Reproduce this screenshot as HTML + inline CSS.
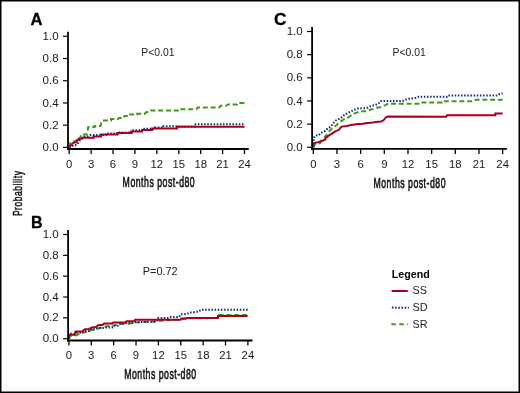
<!DOCTYPE html><html><head><meta charset="utf-8"><style>html,body{margin:0;padding:0;background:#fff}svg{display:block;will-change:transform}text{font-family:"Liberation Sans",sans-serif}</style></head><body>
<svg width="520" height="393" viewBox="0 0 520 393">
<rect x="0" y="0" width="520" height="393" fill="#fff"/>
<path d="M69.2,147 L70,143.5 L71.5,141.3 L76,141.3 L77,138 L80.7,138 L80.7,134.6 L86.5,134.6 L87.4,131.9 L87.8,129.7 L88.2,127 L94.5,127 L94.5,125.9 L100.5,125.9 L101.2,123 L102.5,120.5 L111,120.5 L111,119 L118,119 L119,118 L124,118 L124.5,115.9 L130,115.9 L130,114.4 L137,114.4 L137,113.7 L145,113.7 L146,112.3 L149,112 L150.5,110.4 L180,110.4 L180,109.2 L196.5,109.2 L197.5,107.5 L219.5,107.5 L220.5,105.8 L226,105.8 L228,104.5 L237,104.5 L237.5,103 L244.6,103" fill="none" stroke="#43981c" stroke-width="2" stroke-dasharray="5 2.8"/>
<path d="M69.2,147.4 L71,146.5 L73.4,145.4 L74.6,145.4 L76.5,144.7 L77.8,144.1 L78.5,142.2 L79.7,140.6 L82.3,138.7 L84.2,136.8 L87.4,136.5 L89.6,135.2 L90,135 L105.8,135 L105.8,133.5 L118,133.5 L118,132.5 L131,132.5 L131,130.3 L142,130.3 L142,128.8 L155,128.8 L155,127.5 L163.5,127.5 L163.5,126.2 L177,126.2 L177,126.6 L194.6,126.6 L194.6,124.2 L244.6,124.2" fill="none" stroke="#0c2c7c" stroke-width="2" stroke-dasharray="1.5 1.65"/>
<path d="M69.2,147.4 L71,145.2 L73.4,142.6 L76.5,142.3 L77.2,140.5 L78.3,139.2 L81.6,138.7 L82.3,137.7 L93.6,137.7 L93.6,136.6 L101,136.6 L101.2,134.6 L117.3,134.6 L117.3,132.9 L131.7,132.9 L131.7,131.4 L142,131.4 L142,129.9 L152.2,129.9 L152.2,128.6 L177.2,128.6 L177.2,126.7 L244.6,126.7" fill="none" stroke="#a6001e" stroke-width="2"/>
<line x1="68.0" y1="31.8" x2="68.0" y2="150.0" stroke="#000" stroke-width="1.8"/>
<line x1="67.1" y1="149.0" x2="248.7" y2="149.0" stroke="#000" stroke-width="1.8"/>
<line x1="63.0" y1="147.40" x2="68.0" y2="147.40" stroke="#000" stroke-width="1.2"/>
<text x="58.6" y="151.00" font-size="11.5" text-anchor="end" fill="#1a1a1a">0.0</text>
<line x1="63.0" y1="125.18" x2="68.0" y2="125.18" stroke="#000" stroke-width="1.2"/>
<text x="58.6" y="128.78" font-size="11.5" text-anchor="end" fill="#1a1a1a">0.2</text>
<line x1="63.0" y1="102.96" x2="68.0" y2="102.96" stroke="#000" stroke-width="1.2"/>
<text x="58.6" y="106.56" font-size="11.5" text-anchor="end" fill="#1a1a1a">0.4</text>
<line x1="63.0" y1="80.74" x2="68.0" y2="80.74" stroke="#000" stroke-width="1.2"/>
<text x="58.6" y="84.34" font-size="11.5" text-anchor="end" fill="#1a1a1a">0.6</text>
<line x1="63.0" y1="58.52" x2="68.0" y2="58.52" stroke="#000" stroke-width="1.2"/>
<text x="58.6" y="62.12" font-size="11.5" text-anchor="end" fill="#1a1a1a">0.8</text>
<line x1="63.0" y1="36.30" x2="68.0" y2="36.30" stroke="#000" stroke-width="1.2"/>
<text x="58.6" y="39.90" font-size="11.5" text-anchor="end" fill="#1a1a1a">1.0</text>
<line x1="69.20" y1="149.0" x2="69.20" y2="154.0" stroke="#000" stroke-width="1.3"/>
<text x="69.20" y="167.60" font-size="11.3" text-anchor="middle" fill="#1a1a1a">0</text>
<line x1="91.11" y1="149.0" x2="91.11" y2="154.0" stroke="#000" stroke-width="1.3"/>
<text x="91.11" y="167.60" font-size="11.3" text-anchor="middle" fill="#1a1a1a">3</text>
<line x1="113.02" y1="149.0" x2="113.02" y2="154.0" stroke="#000" stroke-width="1.3"/>
<text x="113.02" y="167.60" font-size="11.3" text-anchor="middle" fill="#1a1a1a">6</text>
<line x1="134.94" y1="149.0" x2="134.94" y2="154.0" stroke="#000" stroke-width="1.3"/>
<text x="134.94" y="167.60" font-size="11.3" text-anchor="middle" fill="#1a1a1a">9</text>
<line x1="156.85" y1="149.0" x2="156.85" y2="154.0" stroke="#000" stroke-width="1.3"/>
<text x="156.85" y="167.60" font-size="11.3" text-anchor="middle" fill="#1a1a1a">12</text>
<line x1="178.76" y1="149.0" x2="178.76" y2="154.0" stroke="#000" stroke-width="1.3"/>
<text x="178.76" y="167.60" font-size="11.3" text-anchor="middle" fill="#1a1a1a">15</text>
<line x1="200.67" y1="149.0" x2="200.67" y2="154.0" stroke="#000" stroke-width="1.3"/>
<text x="200.67" y="167.60" font-size="11.3" text-anchor="middle" fill="#1a1a1a">18</text>
<line x1="222.58" y1="149.0" x2="222.58" y2="154.0" stroke="#000" stroke-width="1.3"/>
<text x="222.58" y="167.60" font-size="11.3" text-anchor="middle" fill="#1a1a1a">21</text>
<line x1="244.50" y1="149.0" x2="244.50" y2="154.0" stroke="#000" stroke-width="1.3"/>
<text x="244.50" y="167.60" font-size="11.3" text-anchor="middle" fill="#1a1a1a">24</text>
<path d="M69,339 L70,336 L76.4,335.2 L80,333.5 L86.8,331.8 L92,330 L100,328 L106.4,326.3 L113,325.5 L120,324 L125.8,323.8 L130,323.6 L136,322.5 L153,321.6 L159,321 L170,320 L181,319.6 L186.5,318.2 L218,318.1 L219,315 L247.6,315" fill="none" stroke="#43981c" stroke-width="2" stroke-dasharray="5 2.8"/>
<path d="M69,339 L69.5,333.5 L75,333.8 L77.5,332.7 L82.2,332.7 L83.3,331 L89.1,331 L90.2,329.2 L96,329.2 L97.2,328.1 L104.1,328.1 L106.4,327.5 L112.2,327.5 L113.3,325.8 L117.9,325.8 L119,324 L124.3,323.1 L133,323.1 L135.9,321.9 L156,321.9 L158.2,318 L167.6,318 L169.8,317 L179.1,317 L180.6,314.4 L186.3,314 L187.8,313.5 L189.2,312.6 L193,312.5 L195.8,311.8 L198.5,311.8 L201.2,309.8 L247.6,309.8" fill="none" stroke="#0c2c7c" stroke-width="2" stroke-dasharray="1.5 1.65"/>
<path d="M68.9,338.7 L69.2,334.8 L74.7,334.8 L75.2,332.7 L75.5,331.5 L82.5,331.5 L83.3,330.2 L85,329.2 L89.1,329 L92,327.5 L96,326.9 L98.3,325.2 L102.9,324.8 L104.1,323.5 L112.2,323.5 L113.3,322.4 L125.8,322.4 L126.5,321.3 L134.4,321.3 L135.1,319.8 L180.6,319.8 L181.3,318.5 L186.3,318.5 L186.8,317.9 L218,317.9 L218,315.9 L247.6,315.9" fill="none" stroke="#a6001e" stroke-width="2"/>
<line x1="68.1" y1="230.1" x2="68.1" y2="341.5" stroke="#000" stroke-width="1.8"/>
<line x1="67.19999999999999" y1="340.5" x2="252.5" y2="340.5" stroke="#000" stroke-width="1.8"/>
<line x1="63.099999999999994" y1="338.70" x2="68.1" y2="338.70" stroke="#000" stroke-width="1.2"/>
<text x="58.7" y="342.30" font-size="11.5" text-anchor="end" fill="#1a1a1a">0.0</text>
<line x1="63.099999999999994" y1="317.86" x2="68.1" y2="317.86" stroke="#000" stroke-width="1.2"/>
<text x="58.7" y="321.46" font-size="11.5" text-anchor="end" fill="#1a1a1a">0.2</text>
<line x1="63.099999999999994" y1="297.02" x2="68.1" y2="297.02" stroke="#000" stroke-width="1.2"/>
<text x="58.7" y="300.62" font-size="11.5" text-anchor="end" fill="#1a1a1a">0.4</text>
<line x1="63.099999999999994" y1="276.18" x2="68.1" y2="276.18" stroke="#000" stroke-width="1.2"/>
<text x="58.7" y="279.78" font-size="11.5" text-anchor="end" fill="#1a1a1a">0.6</text>
<line x1="63.099999999999994" y1="255.34" x2="68.1" y2="255.34" stroke="#000" stroke-width="1.2"/>
<text x="58.7" y="258.94" font-size="11.5" text-anchor="end" fill="#1a1a1a">0.8</text>
<line x1="63.099999999999994" y1="234.50" x2="68.1" y2="234.50" stroke="#000" stroke-width="1.2"/>
<text x="58.7" y="238.10" font-size="11.5" text-anchor="end" fill="#1a1a1a">1.0</text>
<line x1="68.90" y1="340.5" x2="68.90" y2="345.5" stroke="#000" stroke-width="1.3"/>
<text x="68.90" y="359.10" font-size="11.3" text-anchor="middle" fill="#1a1a1a">0</text>
<line x1="91.27" y1="340.5" x2="91.27" y2="345.5" stroke="#000" stroke-width="1.3"/>
<text x="91.27" y="359.10" font-size="11.3" text-anchor="middle" fill="#1a1a1a">3</text>
<line x1="113.65" y1="340.5" x2="113.65" y2="345.5" stroke="#000" stroke-width="1.3"/>
<text x="113.65" y="359.10" font-size="11.3" text-anchor="middle" fill="#1a1a1a">6</text>
<line x1="136.02" y1="340.5" x2="136.02" y2="345.5" stroke="#000" stroke-width="1.3"/>
<text x="136.02" y="359.10" font-size="11.3" text-anchor="middle" fill="#1a1a1a">9</text>
<line x1="158.40" y1="340.5" x2="158.40" y2="345.5" stroke="#000" stroke-width="1.3"/>
<text x="158.40" y="359.10" font-size="11.3" text-anchor="middle" fill="#1a1a1a">12</text>
<line x1="180.77" y1="340.5" x2="180.77" y2="345.5" stroke="#000" stroke-width="1.3"/>
<text x="180.77" y="359.10" font-size="11.3" text-anchor="middle" fill="#1a1a1a">15</text>
<line x1="203.14" y1="340.5" x2="203.14" y2="345.5" stroke="#000" stroke-width="1.3"/>
<text x="203.14" y="359.10" font-size="11.3" text-anchor="middle" fill="#1a1a1a">18</text>
<line x1="225.52" y1="340.5" x2="225.52" y2="345.5" stroke="#000" stroke-width="1.3"/>
<text x="225.52" y="359.10" font-size="11.3" text-anchor="middle" fill="#1a1a1a">21</text>
<line x1="247.89" y1="340.5" x2="247.89" y2="345.5" stroke="#000" stroke-width="1.3"/>
<text x="247.89" y="359.10" font-size="11.3" text-anchor="middle" fill="#1a1a1a">24</text>
<path d="M313.3,147.3 L314,144.5 L318,143.8 L320.1,143 L322.2,139.5 L324.2,138 L326.2,135.4 L327.3,133.9 L329.3,131.4 L330.8,129.8 L332.3,128.3 L334.4,126.8 L336.4,125.3 L338.4,123.2 L340,122 L343.4,119.7 L345.7,118.6 L349.2,116.9 L352.6,114 L356,112.9 L359.5,111.7 L362.9,111.2 L366.3,111.2 L369.7,110 L373.2,108.9 L376.6,107.7 L380,107.2 L383.5,106 L385.8,104.9 L388.1,103.7 L418.5,103.7 L419,102.5 L442,102.5 L442.2,101.3 L473.2,101.3 L475.7,99.7 L502.6,99.7" fill="none" stroke="#43981c" stroke-width="2" stroke-dasharray="5 2.8"/>
<path d="M313.3,147.3 L313.5,143.6 L313.6,140.5 L314.2,137.5 L315,136 L316.6,135.4 L318.6,135.4 L319.6,134.4 L321.2,132.9 L323.2,131.9 L325.2,130.9 L326.8,129.3 L328.3,128.3 L330.3,126.8 L331.8,125.3 L333.4,123.2 L335.4,120.7 L337.4,119.7 L340,118.6 L342.3,116.9 L344.6,114.6 L348,112.9 L351.4,111.2 L354.9,109.5 L357.2,108.6 L360.6,108.4 L364,108.2 L367.5,107.7 L369.7,106.6 L373.2,105.4 L375.5,104.9 L377.8,103.7 L380,102.6 L381.2,100.9 L402.6,100.9 L405.5,99.8 L409.1,98.7 L415.6,97.9 L418.5,96.8 L447.1,96.8 L447.9,95.6 L496.9,95.6 L498.6,94.5 L501,93.5 L502.6,93.5" fill="none" stroke="#0c2c7c" stroke-width="2" stroke-dasharray="1.5 1.65"/>
<path d="M313.3,147.3 L313.6,144 L314.2,143.2 L316.1,142.6 L319.1,142 L321.2,141 L323.2,140.5 L325.2,139.5 L326.2,137.6 L328.3,135.9 L329.8,134.9 L332.3,133.4 L334.4,131.9 L336.4,130.9 L339,129.8 L340.3,128 L341.7,126.6 L346.9,126 L351.4,124.9 L356,124.3 L362.9,123.8 L365.2,123.2 L373.2,122.6 L375.5,122 L381.2,121.5 L383.5,120.3 L385.8,117.5 L387.5,116.5 L446.2,116.7 L447.1,115.2 L495.3,115.2 L495.3,113.6 L502.6,113.6" fill="none" stroke="#a6001e" stroke-width="2"/>
<line x1="312.1" y1="27.1" x2="312.1" y2="149.9" stroke="#000" stroke-width="1.8"/>
<line x1="311.20000000000005" y1="148.9" x2="506.9" y2="148.9" stroke="#000" stroke-width="1.8"/>
<line x1="307.1" y1="147.30" x2="312.1" y2="147.30" stroke="#000" stroke-width="1.2"/>
<text x="302.7" y="150.90" font-size="11.5" text-anchor="end" fill="#1a1a1a">0.0</text>
<line x1="307.1" y1="124.14" x2="312.1" y2="124.14" stroke="#000" stroke-width="1.2"/>
<text x="302.7" y="127.74" font-size="11.5" text-anchor="end" fill="#1a1a1a">0.2</text>
<line x1="307.1" y1="100.98" x2="312.1" y2="100.98" stroke="#000" stroke-width="1.2"/>
<text x="302.7" y="104.58" font-size="11.5" text-anchor="end" fill="#1a1a1a">0.4</text>
<line x1="307.1" y1="77.82" x2="312.1" y2="77.82" stroke="#000" stroke-width="1.2"/>
<text x="302.7" y="81.42" font-size="11.5" text-anchor="end" fill="#1a1a1a">0.6</text>
<line x1="307.1" y1="54.66" x2="312.1" y2="54.66" stroke="#000" stroke-width="1.2"/>
<text x="302.7" y="58.26" font-size="11.5" text-anchor="end" fill="#1a1a1a">0.8</text>
<line x1="307.1" y1="31.50" x2="312.1" y2="31.50" stroke="#000" stroke-width="1.2"/>
<text x="302.7" y="35.10" font-size="11.5" text-anchor="end" fill="#1a1a1a">1.0</text>
<line x1="313.30" y1="148.9" x2="313.30" y2="153.9" stroke="#000" stroke-width="1.3"/>
<text x="313.30" y="167.50" font-size="11.3" text-anchor="middle" fill="#1a1a1a">0</text>
<line x1="336.97" y1="148.9" x2="336.97" y2="153.9" stroke="#000" stroke-width="1.3"/>
<text x="336.97" y="167.50" font-size="11.3" text-anchor="middle" fill="#1a1a1a">3</text>
<line x1="360.64" y1="148.9" x2="360.64" y2="153.9" stroke="#000" stroke-width="1.3"/>
<text x="360.64" y="167.50" font-size="11.3" text-anchor="middle" fill="#1a1a1a">6</text>
<line x1="384.31" y1="148.9" x2="384.31" y2="153.9" stroke="#000" stroke-width="1.3"/>
<text x="384.31" y="167.50" font-size="11.3" text-anchor="middle" fill="#1a1a1a">9</text>
<line x1="407.98" y1="148.9" x2="407.98" y2="153.9" stroke="#000" stroke-width="1.3"/>
<text x="407.98" y="167.50" font-size="11.3" text-anchor="middle" fill="#1a1a1a">12</text>
<line x1="431.65" y1="148.9" x2="431.65" y2="153.9" stroke="#000" stroke-width="1.3"/>
<text x="431.65" y="167.50" font-size="11.3" text-anchor="middle" fill="#1a1a1a">15</text>
<line x1="455.32" y1="148.9" x2="455.32" y2="153.9" stroke="#000" stroke-width="1.3"/>
<text x="455.32" y="167.50" font-size="11.3" text-anchor="middle" fill="#1a1a1a">18</text>
<line x1="478.99" y1="148.9" x2="478.99" y2="153.9" stroke="#000" stroke-width="1.3"/>
<text x="478.99" y="167.50" font-size="11.3" text-anchor="middle" fill="#1a1a1a">21</text>
<line x1="502.66" y1="148.9" x2="502.66" y2="153.9" stroke="#000" stroke-width="1.3"/>
<text x="502.66" y="167.50" font-size="11.3" text-anchor="middle" fill="#1a1a1a">24</text>
<g transform="translate(122.6,187.4) scale(0.6,1)"><text x="0" y="0" font-size="14.6" textLength="120.2" lengthAdjust="spacing" fill="#111" stroke="#111" stroke-width="0.6">Months post-d80</text></g>
<g transform="translate(373.5,187.5) scale(0.6,1)"><text x="0" y="0" font-size="14.6" textLength="120.0" lengthAdjust="spacing" fill="#111" stroke="#111" stroke-width="0.6">Months post-d80</text></g>
<g transform="translate(124.2,379.0) scale(0.6,1)"><text x="0" y="0" font-size="14.6" textLength="120.0" lengthAdjust="spacing" fill="#111" stroke="#111" stroke-width="0.6">Months post-d80</text></g>
<g transform="translate(22.2,216.1) rotate(-90) scale(0.62,1)"><text x="0" y="0" font-size="13.7" textLength="72.6" lengthAdjust="spacing" fill="#111" stroke="#111" stroke-width="0.5">Probability</text></g>
<text x="30.6" y="24.6" font-size="16.2" textLength="12.0" lengthAdjust="spacingAndGlyphs" font-weight="bold" fill="#000" stroke="#000" stroke-width="0.3">A</text>
<text x="31.1" y="227.6" font-size="16" font-weight="bold" fill="#000" stroke="#000" stroke-width="0.3">B</text>
<text x="273.9" y="24.9" font-size="17.3" font-weight="bold" fill="#000" stroke="#000" stroke-width="0.3">C</text>
<text x="141.3" y="56" font-size="11" textLength="33.2" lengthAdjust="spacingAndGlyphs" fill="#222">P&lt;0.01</text>
<text x="392.5" y="56" font-size="11" textLength="33.2" lengthAdjust="spacingAndGlyphs" fill="#222">P&lt;0.01</text>
<text x="142.7" y="275.3" font-size="11" textLength="35.0" lengthAdjust="spacingAndGlyphs" fill="#222">P=0.72</text>
<text x="391.8" y="277.8" font-size="10.7" font-weight="bold" fill="#000">Legend</text>
<line x1="391.6" y1="291" x2="407.8" y2="291" stroke="#a6001e" stroke-width="2"/>
<line x1="391.9" y1="307.6" x2="408.8" y2="307.8" stroke="#0c2c7c" stroke-width="2" stroke-dasharray="1.6 1.6"/>
<line x1="391.3" y1="324.3" x2="408" y2="324.3" stroke="#43981c" stroke-width="2" stroke-dasharray="4.5 3.5"/>
<text x="412.5" y="294.3" font-size="10.8" fill="#222">SS</text>
<text x="412.5" y="311" font-size="10.8" fill="#222">SD</text>
<text x="412.5" y="327.7" font-size="10.8" fill="#222">SR</text>
<rect x="0" y="0" width="520" height="1.5" fill="#000"/>
<rect x="0" y="0" width="1.5" height="393" fill="#000"/>
<rect x="518.5" y="0" width="1.5" height="393" fill="#000"/>
<rect x="0" y="391.5" width="520" height="1.5" fill="#000"/>
</svg></body></html>
